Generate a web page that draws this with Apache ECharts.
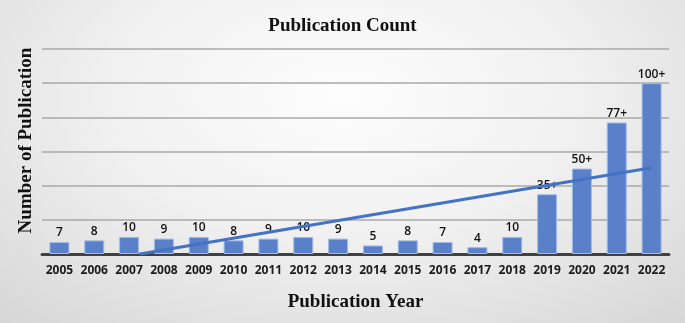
<!DOCTYPE html>
<html>
<head>
<meta charset="utf-8">
<script src="https://cdn.jsdelivr.net/npm/echarts@6/dist/echarts.min.js"></script>
<style>
html,body{margin:0;padding:0;}
#chart{width:685px;height:323px;background:radial-gradient(ellipse 75% 95% at 50% 30%, #fdfdfd 0%, #f1f1f1 45%, #d6d6d6 100%);}
</style>
</head>
<body>
<div id="chart"></div>
<script>
const years = ['2005','2006','2007','2008','2009','2010','2011','2012','2013','2014','2015','2016','2017','2018','2019','2020','2021','2022'];
const counts = [7, 8, 10, 9, 10, 8, 9, 10, 9, 5, 8, 7, 4, 10, 35, 50, 77, 100];
const countLabels = ['7','8','10','9','10','8','9','10','9','5','8','7','4','10','35+','50+','77+','100+'];
const trendYears = [2007.3, 2022];
const trendValues = [0, 50.5];
const titleText = 'Publication Count';
const xName = 'Publication Year';
const yName = 'Number of Publication';

const chart = echarts.init(document.getElementById('chart'));
chart.setOption({
  backgroundColor: 'transparent',
  animation: false,
  title: {
    text: titleText, left: 'center', top: 12,
    textStyle: {fontFamily: 'Liberation Serif', fontWeight: 'bold', fontSize: 19, color: '#111'}
  },
  grid: {left: 42, right: 16, top: 49, bottom: 69},
  xAxis: [{
    type: 'category', data: years,
    axisLine: {lineStyle: {color: '#404040', width: 3}},
    axisTick: {show: false},
    axisLabel: {interval: 0, fontFamily: 'Open Sans', fontWeight: 'bold', fontSize: 12, color: '#1a1a1a', margin: 11},
    name: xName, nameLocation: 'middle', nameGap: 39,
    nameTextStyle: {fontFamily: 'Liberation Serif', fontWeight: 'bold', fontSize: 19, color: '#111'}
  }, {
    type: 'value', min: 2004.5, max: 2022.5, show: false
  }],
  yAxis: {
    type: 'value', min: 0, max: 120, interval: 20,
    axisLabel: {show: false}, axisLine: {show: false}, axisTick: {show: false},
    splitLine: {lineStyle: {color: '#a8a8a8', width: 1.5}},
    name: yName, nameLocation: 'middle', nameGap: 6,
    nameTextStyle: {fontFamily: 'Liberation Serif', fontWeight: 'bold', fontSize: 19, color: '#111', padding: [0, 0, 0, 22]}
  },
  series: [{
    type: 'bar', data: counts, barWidth: 20, xAxisIndex: 0,
    itemStyle: {color: '#5a80c9', borderColor: '#a3bae4', borderWidth: 1},
    label: {
      show: true, position: 'top', distance: 3,
      formatter: p => countLabels[p.dataIndex],
      fontFamily: 'Open Sans', fontSize: 12, fontWeight: 600, color: '#111'
    }
  }, {
    type: 'line', xAxisIndex: 1,
    data: trendYears.map((y, i) => [y, trendValues[i]]),
    symbol: 'none', lineStyle: {color: '#4472c4', width: 3}, z: 5
  }]
});
</script>
</body>
</html>
